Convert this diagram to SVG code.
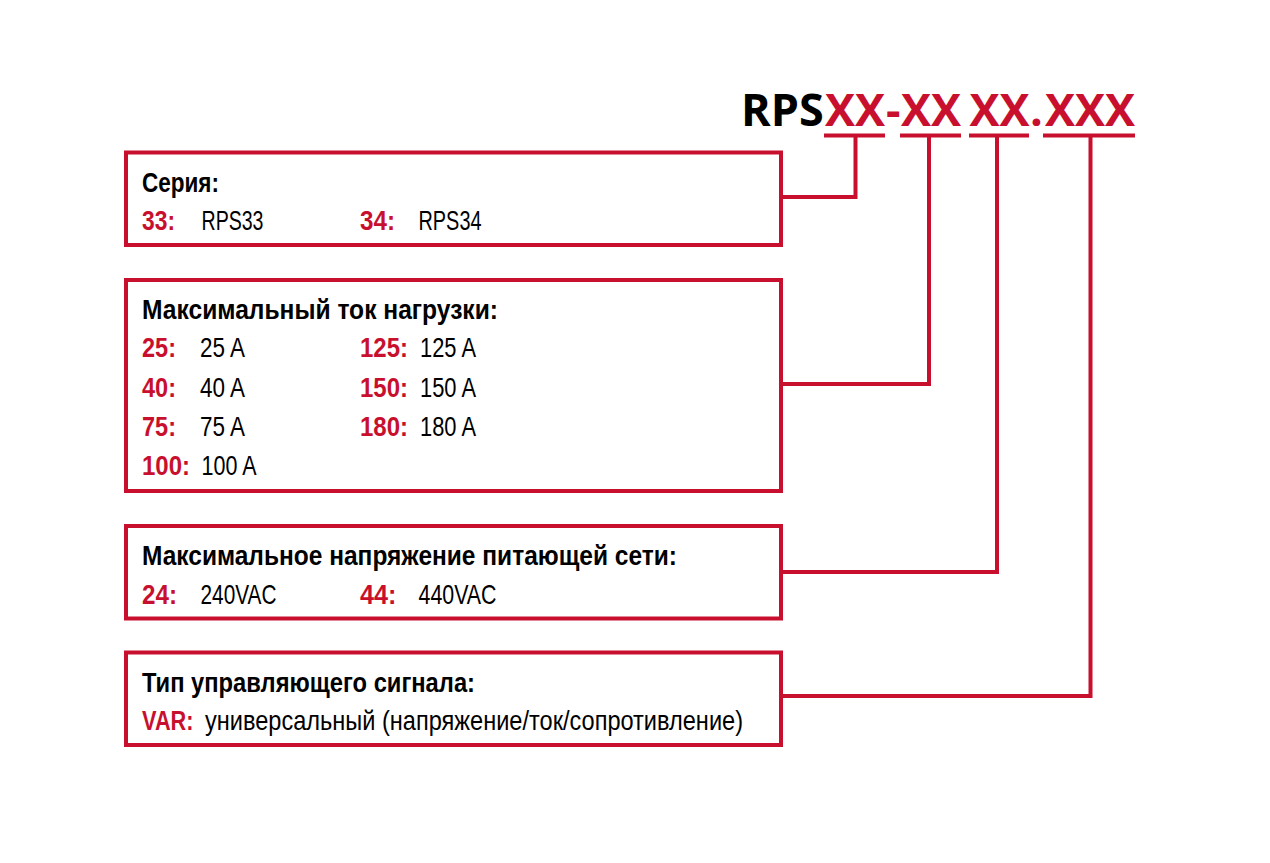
<svg xmlns="http://www.w3.org/2000/svg" width="1270" height="863" viewBox="0 0 1270 863">
<style>
.box{fill:none;stroke:#c8102e;stroke-width:4}
.c{fill:none;stroke:#c8102e;stroke-width:4}
.ul{fill:#c8102e}
text{font-family:"Liberation Sans",Arial,sans-serif;font-size:27.5px}
.t{font-family:"Open Sans","Liberation Sans",Arial,sans-serif;font-size:45px;font-weight:bold;fill:#000}
.r{fill:#c8102e}
.h{font-weight:bold;fill:#000}
.k{font-weight:bold;fill:#c8102e}
.v{fill:#000}
</style>
<rect width="1270" height="863" fill="#fff"/>
<g id="title">
<text class="t" y="126"><tspan x="741">RPS</tspan><tspan class="r" x="825">XX</tspan><tspan class="r" x="886">-</tspan><tspan class="r" x="901">XX</tspan><tspan class="r" x="961"> </tspan><tspan class="r" x="969.5">XX</tspan><tspan class="r" x="1030">.</tspan><tspan class="r" x="1045">XXX</tspan></text>
<rect class="ul" x="824" y="133.5" width="61" height="4"/>
<rect class="ul" x="900" y="133.5" width="61" height="4"/>
<rect class="ul" x="969" y="133.5" width="60" height="4"/>
<rect class="ul" x="1043" y="133.5" width="92" height="4"/>
</g>
<g id="connectors">
<path class="c" d="M781,197 H855.5 V135.5"/>
<path class="c" d="M781,384 H929 V135.5"/>
<path class="c" d="M781,572 H997 V135.5"/>
<path class="c" d="M781,696 H1090.5 V135.5"/>
</g>
<g id="series">
<rect class="box" x="126" y="152.5" width="655" height="92.5"/>
<text class="h" x="142" y="191.5" textLength="77" lengthAdjust="spacingAndGlyphs">Серия:</text>
<text class="k" x="142" y="230" textLength="33" lengthAdjust="spacingAndGlyphs">33:</text>
<text class="v" x="201.5" y="230" textLength="62" lengthAdjust="spacingAndGlyphs">RPS33</text>
<text class="k" x="360" y="230" textLength="35" lengthAdjust="spacingAndGlyphs">34:</text>
<text class="v" x="418.5" y="230" textLength="63" lengthAdjust="spacingAndGlyphs">RPS34</text>
</g>
<g id="current">
<rect class="box" x="126" y="280" width="655" height="211"/>
<text class="h" x="142" y="319" textLength="356" lengthAdjust="spacingAndGlyphs">Максимальный ток нагрузки:</text>
<text class="k" x="142" y="357" textLength="34" lengthAdjust="spacingAndGlyphs">25:</text>
<text class="v" x="200" y="357" textLength="45" lengthAdjust="spacingAndGlyphs">25 A</text>
<text class="k" x="142" y="396.5" textLength="34" lengthAdjust="spacingAndGlyphs">40:</text>
<text class="v" x="200" y="396.5" textLength="45" lengthAdjust="spacingAndGlyphs">40 A</text>
<text class="k" x="142" y="436" textLength="34" lengthAdjust="spacingAndGlyphs">75:</text>
<text class="v" x="200" y="436" textLength="45" lengthAdjust="spacingAndGlyphs">75 A</text>
<text class="k" x="142" y="475" textLength="48" lengthAdjust="spacingAndGlyphs">100:</text>
<text class="v" x="201.5" y="475" textLength="55" lengthAdjust="spacingAndGlyphs">100 A</text>
<text class="k" x="360" y="357" textLength="48" lengthAdjust="spacingAndGlyphs">125:</text>
<text class="v" x="420" y="357" textLength="56" lengthAdjust="spacingAndGlyphs">125 A</text>
<text class="k" x="360" y="396.5" textLength="48" lengthAdjust="spacingAndGlyphs">150:</text>
<text class="v" x="420" y="396.5" textLength="56" lengthAdjust="spacingAndGlyphs">150 A</text>
<text class="k" x="360" y="436" textLength="48" lengthAdjust="spacingAndGlyphs">180:</text>
<text class="v" x="420" y="436" textLength="56" lengthAdjust="spacingAndGlyphs">180 A</text>
</g>
<g id="voltage">
<rect class="box" x="126" y="526" width="655" height="92.5"/>
<text class="h" x="142" y="565" textLength="535" lengthAdjust="spacingAndGlyphs">Максимальное напряжение питающей сети:</text>
<text class="k" x="142" y="603.5" textLength="35" lengthAdjust="spacingAndGlyphs">24:</text>
<text class="v" x="200.5" y="603.5" textLength="76" lengthAdjust="spacingAndGlyphs">240VAC</text>
<text class="k" x="360" y="603.5" textLength="36.5" lengthAdjust="spacingAndGlyphs">44:</text>
<text class="v" x="418.5" y="603.5" textLength="78" lengthAdjust="spacingAndGlyphs">440VAC</text>
</g>
<g id="signal">
<rect class="box" x="126" y="652.5" width="655" height="92.5"/>
<text class="h" x="142" y="691.5" textLength="333" lengthAdjust="spacingAndGlyphs">Тип управляющего сигнала:</text>
<text class="k" x="142" y="730" textLength="51.5" lengthAdjust="spacingAndGlyphs">VAR:</text>
<text class="v" x="205" y="730" textLength="538" lengthAdjust="spacingAndGlyphs">универсальный (напряжение/ток/сопротивление)</text>
</g>
</svg>
